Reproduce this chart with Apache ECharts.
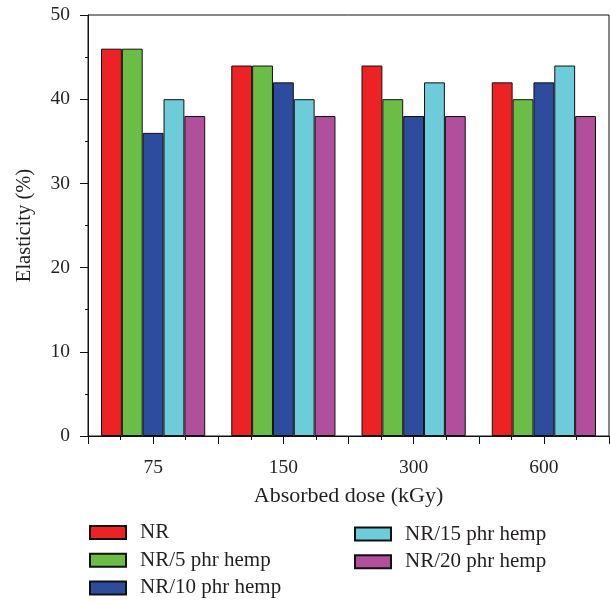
<!DOCTYPE html>
<html>
<head>
<meta charset="utf-8">
<script src="https://cdn.jsdelivr.net/npm/echarts@6/dist/echarts.min.js"></script>
<style>
  html, body { margin: 0; padding: 0; background: #fff; }
  #chart { width: 610px; height: 602px; }
</style>
</head>
<body>
<div id="chart"></div>
<script>
// Absorbed dose groups (kGy)
const doses = ['75', '150', '300', '600'];

// Elasticity (%) for each compound
const seriesNames = ['NR', 'NR/5 phr hemp', 'NR/10 phr hemp', 'NR/15 phr hemp', 'NR/20 phr hemp'];
const nr      = [46, 44, 44, 42];
const hemp5   = [46, 44, 40, 40];
const hemp10  = [36, 42, 38, 42];
const hemp15  = [40, 40, 42, 44];
const hemp20  = [38, 38, 38, 38];
const seriesValues = [nr, hemp5, hemp10, hemp15, hemp20];

const colors = ['#ED2225', '#6CBD45', '#2E4C9E', '#6DCCD9', '#B14F9D'];

const FONT = 'Liberation Serif';
const INK = '#231F20';

const chart = echarts.init(document.getElementById('chart'), null, { renderer: 'canvas' });

const bars = seriesNames.map((name, i) => ({
  name,
  type: 'bar',
  xAxisIndex: 0,
  yAxisIndex: 0,
  data: seriesValues[i],
  barGap: '0%',
  barCategoryGap: '20%',
  itemStyle: { color: colors[i], borderColor: '#111', borderWidth: 1 }
}));

const legendBase = {
  type: 'plain',
  orient: 'vertical',
  padding: 0,
  height: 80,
  itemWidth: 36, itemHeight: 13, itemGap: 6.7,
  icon: 'rect',
  textStyle: { fontFamily: FONT, fontSize: 21, color: INK, lineHeight: 20, padding: [0, 0, 0, 9] }
};

chart.setOption({
  animation: false,
  backgroundColor: '#fff',
  textStyle: { fontFamily: FONT, color: INK },
  grid: {
    left: 88, right: 1, top: 15, bottom: 166,
    show: true, borderColor: '#111', borderWidth: 1, backgroundColor: 'transparent'
  },
  legend: [
    Object.assign({}, legendBase, { data: seriesNames.slice(0, 3), left: 89, top: 522 }),
    Object.assign({}, legendBase, { data: seriesNames.slice(3), left: 354, top: 523.5 })
  ],
  xAxis: [
    {
      type: 'category',
      data: doses,
      name: 'Absorbed dose (kGy)',
      nameLocation: 'middle',
      nameGap: 49,
      nameTextStyle: { fontFamily: FONT, fontSize: 22, color: INK },
      axisLine: { show: true, lineStyle: { color: '#111', width: 1 } },
      axisTick: { show: false },
      axisLabel: { margin: 22, fontFamily: FONT, fontSize: 19.5, color: INK },
      splitLine: { show: false }
    },
    {
      // tick marks at half-category steps, with minor ticks between them
      type: 'value',
      min: 0, max: 8, interval: 1,
      position: 'bottom',
      axisLine: { show: false },
      axisLabel: { show: false },
      axisTick: { show: true, inside: false, length: 8, lineStyle: { color: '#111', width: 1 } },
      minorTick: { show: true, splitNumber: 2, length: 4, lineStyle: { color: '#111', width: 1 } },
      splitLine: { show: false }
    }
  ],
  yAxis: {
    type: 'value',
    min: 0, max: 50, interval: 10,
    name: 'Elasticity (%)',
    nameLocation: 'middle',
    nameGap: 53,
    nameTextStyle: { fontFamily: FONT, fontSize: 20.5, color: INK },
    axisLine: { show: true, lineStyle: { color: '#111', width: 1 } },
    axisTick: { show: true, inside: false, length: 8, lineStyle: { color: '#111' } },
    minorTick: { show: true, splitNumber: 2, length: 3, lineStyle: { color: '#111' } },
    axisLabel: { margin: 18, fontFamily: FONT, fontSize: 19.5, color: INK },
    splitLine: { show: false }
  },
  series: bars
});
</script>
</body>
</html>
